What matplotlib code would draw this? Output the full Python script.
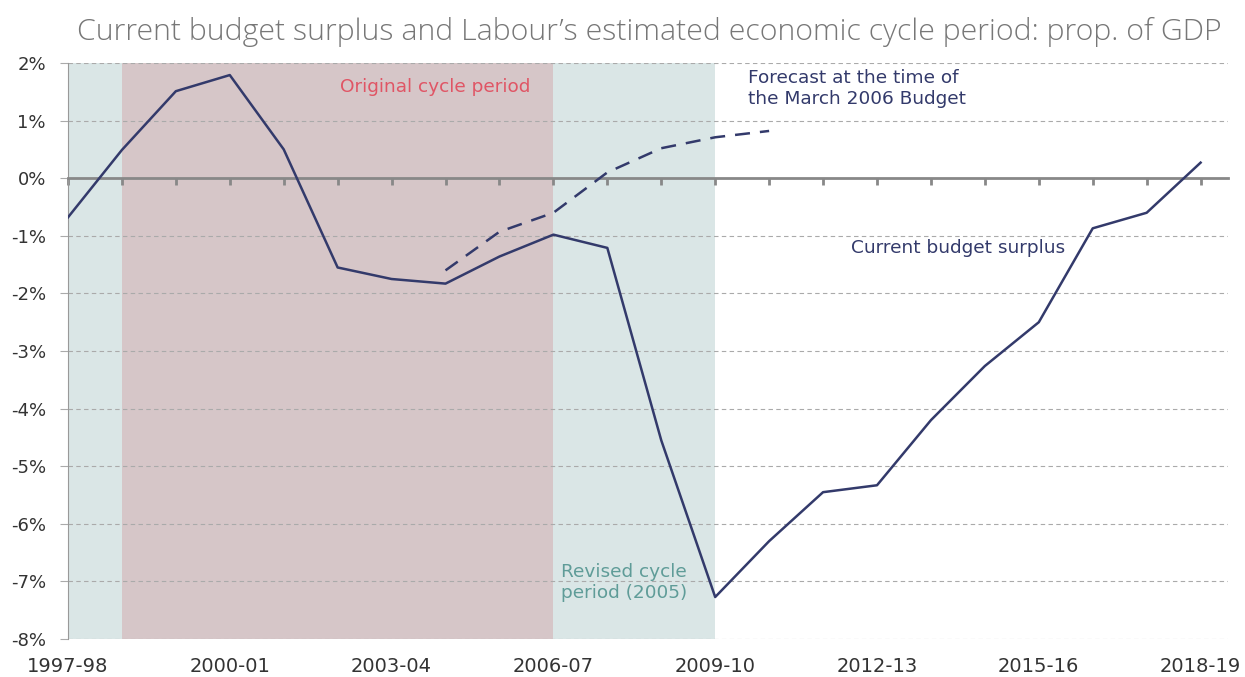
import numpy as np
import matplotlib
matplotlib.use("Agg")
import matplotlib.pyplot as plt

# data
years = ["1997-98", "1998-99", "1999-00", "2000-01", "2001-02", "2002-03", "2003-04",
         "2004-05", "2005-06", "2006-07", "2007-08", "2008-09", "2009-10", "2010-11",
         "2011-12", "2012-13", "2013-14", "2014-15", "2015-16", "2016-17", "2017-18",
         "2018-19"]
surplus = [-0.68, 0.49, 1.51, 1.79, 0.50, -1.55, -1.75, -1.83, -1.36, -0.98, -1.21,
           -4.55, -7.27, -6.30, -5.45, -5.33, -4.20, -3.26, -2.50, -0.87, -0.60, 0.27]
forecast_years = ["2004-05", "2005-06", "2006-07", "2007-08", "2008-09", "2009-10", "2010-11"]
forecast = [-1.60, -0.93, -0.60, 0.10, 0.52, 0.71, 0.82]
# shaded cycle periods (start, end year)
revised_early = ("1997-98", "1998-99")
original_cycle = ("1998-99", "2006-07")
revised_late = ("2006-07", "2009-10")
label_years = years[::3]
yticks = list(range(-8, 3))

plt.rcParams['font.family'] = ['DejaVu Sans']

navy = "#333a6b"
teal = "#dae6e6"
pink = "#d6c6c8"

fig = plt.figure(figsize=(12.45, 6.77), dpi=100)
ax = fig.add_axes([0.0546, 0.056, 0.9314, 0.851])

x = np.arange(len(years))
idx = {y: i for i, y in enumerate(years)}
fx = [idx[y] for y in forecast_years]

for (a, b), c in [(revised_early, teal), (original_cycle, pink), (revised_late, teal)]:
    ax.axvspan(idx[a], idx[b], color=c, lw=0, zorder=0)

for v in yticks:
    if v != 0:
        ax.axhline(v, color="#aaaaaa", lw=0.8, ls=(0, (4, 3)), zorder=1)

ax.plot(x, surplus, color=navy, lw=1.8, zorder=4)
ax.plot(fx, forecast, color=navy, lw=1.8, ls=(0, (6, 4)), zorder=4)

ax.set_xlim(0, 21.5)
ax.set_ylim(-8, 2)

# zero axis with year ticks
ax.spines['bottom'].set_position(('data', 0))
ax.spines['bottom'].set_color("#888888")
ax.spines['bottom'].set_linewidth(2)
ax.spines['bottom'].set_zorder(3)
ax.set_xticks(x)
ax.tick_params(axis='x', direction='out', length=5, width=2, color="#888888",
               labelbottom=False)
ax.spines['left'].set_color("#999999")
ax.spines['left'].set_linewidth(0.8)
ax.spines['top'].set_visible(False)
ax.spines['right'].set_visible(False)

ax.set_yticks(yticks)
ax.set_yticklabels([f"{v}%" for v in yticks], fontsize=13, color="#333333")
ax.tick_params(axis='y', length=6, width=0.8, color="#aaaaaa", pad=10)

sec = ax.secondary_xaxis(0.0)
sec.set_xticks([idx[y] for y in label_years])
sec.set_xticklabels(label_years, fontsize=14, color="#333333")
sec.tick_params(length=0, pad=13)
sec.spines['bottom'].set_visible(False)

ax.text(6.8, 1.58, "Original cycle period", color="#e05565", fontsize=13.3,
        ha='center', va='center')
ax.text(12.6, 1.9, "Forecast at the time of\nthe March 2006 Budget", color=navy,
        fontsize=13.3, ha='left', va='top', linespacing=1.2)
ax.text(14.52, -1.22, "Current budget surplus", color=navy, fontsize=13.3,
        ha='left', va='center')
ax.text(9.15, -7.02, "Revised cycle\nperiod (2005)", color="#5f9c98", fontsize=13.3,
        ha='left', va='center', linespacing=1.2)

fig.text(0.062, 0.953, "Current budget surplus and Labour\u2019s estimated economic cycle period: prop. of GDP",
         fontsize=21.8, color="#777777", ha='left', va='center', fontweight='light',
         family=['Open Sans', 'DejaVu Sans'])

fig.savefig("out.png", dpi=100)
